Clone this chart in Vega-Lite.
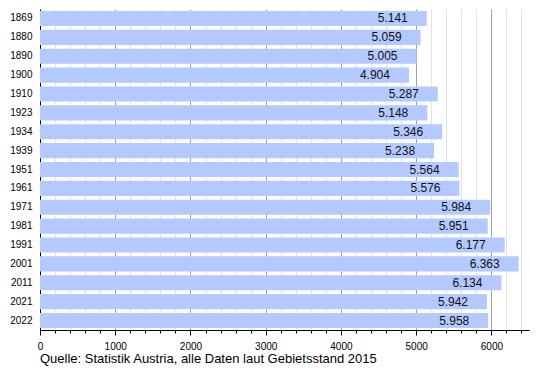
{
  "$schema": "https://vega.github.io/schema/vega-lite/v6.json",
  "width": 489,
  "height": 321,
  "autosize": "none",
  "padding": {"left": 40, "top": 9, "right": 21, "bottom": 40},
  "background": "white",
  "title": {
    "text": "Quelle: Statistik Austria, alle Daten laut Gebietsstand 2015",
    "orient": "bottom",
    "anchor": "start",
    "frame": "group",
    "fontSize": 13,
    "fontWeight": "normal",
    "font": "Liberation Sans",
    "color": "#000",
    "baseline": "top",
    "offset": 2
  },
  "data": {
    "values": [
      {"jahr": "1869", "wert": 5141, "label": "5.141"},
      {"jahr": "1880", "wert": 5059, "label": "5.059"},
      {"jahr": "1890", "wert": 5005, "label": "5.005"},
      {"jahr": "1900", "wert": 4904, "label": "4.904"},
      {"jahr": "1910", "wert": 5287, "label": "5.287"},
      {"jahr": "1923", "wert": 5148, "label": "5.148"},
      {"jahr": "1934", "wert": 5346, "label": "5.346"},
      {"jahr": "1939", "wert": 5238, "label": "5.238"},
      {"jahr": "1951", "wert": 5564, "label": "5.564"},
      {"jahr": "1961", "wert": 5576, "label": "5.576"},
      {"jahr": "1971", "wert": 5984, "label": "5.984"},
      {"jahr": "1981", "wert": 5951, "label": "5.951"},
      {"jahr": "1991", "wert": 6177, "label": "6.177"},
      {"jahr": "2001", "wert": 6363, "label": "6.363"},
      {"jahr": "2011", "wert": 6134, "label": "6.134"},
      {"jahr": "2021", "wert": 5942, "label": "5.942"},
      {"jahr": "2022", "wert": 5958, "label": "5.958"}
    ]
  },
  "encoding": {
    "y": {
      "field": "jahr",
      "type": "nominal",
      "sort": null,
      "title": null,
      "scale": {"paddingInner": 0.2, "paddingOuter": 0.1},
      "axis": {
        "ticks": false,
        "domainColor": "#000",
        "labelFont": "Liberation Sans",
        "labelFontSize": 10,
        "labelColor": "#000",
        "labelPadding": 8
      }
    },
    "x": {
      "field": "wert",
      "type": "quantitative",
      "title": null,
      "scale": {"domain": [0, 6500], "nice": false},
      "axis": {
        "values": [0,200,400,600,800,1000,1200,1400,1600,1800,2000,2200,2400,2600,2800,3000,3200,3400,3600,3800,4000,4200,4400,4600,4800,5000,5200,5400,5600,5800,6000,6200,6400],
        "grid": true,
        "gridColor": {"condition": {"test": "datum.value % 1000 === 0", "value": "#a0a0a0"}, "value": "#e2e2e2"},
        "tickColor": "#000",
        "tickSize": {"condition": {"test": "datum.value % 1000 === 0", "value": 5}, "value": 3},
        "domainColor": "#000",
        "labelExpr": "datum.value % 1000 === 0 ? datum.value : ''",
        "labelFont": "Liberation Sans",
        "labelFontSize": 10,
        "labelColor": "#000",
        "labelPadding": 6,
        "labelFlush": false
      }
    }
  },
  "layer": [
    {
      "mark": {"type": "bar", "color": "#b3c9ff"}
    },
    {
      "mark": {"type": "text", "align": "right", "baseline": "middle", "dx": -19, "font": "Liberation Sans", "fontSize": 12, "color": "#111"},
      "encoding": {"text": {"field": "label"}}
    }
  ],
  "config": {"view": {"stroke": null}}
}
